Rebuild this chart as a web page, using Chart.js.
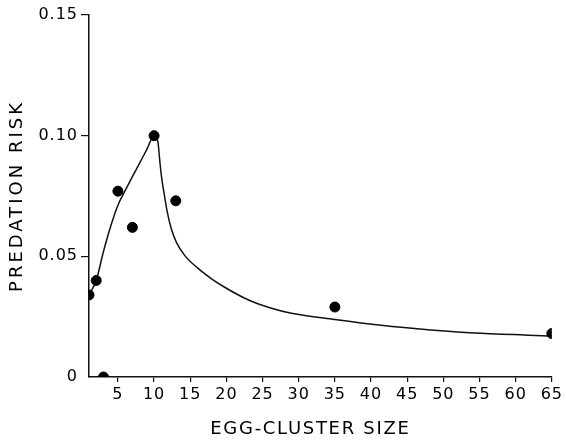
<!DOCTYPE html>
<html>
<head>
<meta charset="utf-8">
<script src="https://cdn.jsdelivr.net/npm/chart.js@4/dist/chart.umd.min.js"></script>
<style>
  html, body { margin: 0; padding: 0; background: #fff; }
  #wrap { width: 566px; height: 441px; }
</style>
</head>
<body>
<div id="wrap"><canvas id="c" width="566" height="441"></canvas></div>
<script>
// Observed data points (egg-cluster size vs predation risk)
const clusterSizes = [1, 2, 3, 5, 7, 10, 13, 35, 65];
const predationRisk = [0.034, 0.040, 0, 0.077, 0.062, 0.100, 0.073, 0.029, 0.018];

// Fitted curve
const curveSizes = [1, 2, 3, 4, 5, 6, 7, 8, 9, 10, 10.53, 10.76, 11.0, 11.35, 11.82, 12.37, 13.06, 14.2, 16.0, 17.9, 19.7, 23, 26, 29, 35, 41.4, 48.3, 55.2, 65];
const curveRisk  = [0.034, 0.040, 0.052, 0.0625, 0.0712, 0.0772, 0.083, 0.0886, 0.0943, 0.100, 0.0974, 0.0905, 0.0836, 0.0767, 0.0684, 0.0615, 0.056, 0.0505, 0.0452, 0.0408, 0.0373, 0.032, 0.0287, 0.0264, 0.0238, 0.0214, 0.0195, 0.0181, 0.017];

// Axis ticks
const xTicks = [5, 10, 15, 20, 25, 30, 35, 40, 45, 50, 55, 60, 65];
const yTicks = [0, 0.05, 0.10, 0.15];
const yTickLabels = ['0', '0.05', '0.10', '0.15'];

const pts = clusterSizes.map((x, i) => ({ x: x, y: predationRisk[i] }));
const curve = curveSizes.map((x, i) => ({ x: x, y: curveRisk[i] }));

const tickFont = { family: 'DejaVu Sans', size: 16 };
const titleFont = { family: 'DejaVu Sans', size: 18 };

const spacingPlugin = {
  id: 'spacing',
  beforeLayout(chart) { chart.ctx.letterSpacing = '1px'; },
  beforeDraw(chart) {
    chart.ctx.letterSpacing = '1px';
    const cfg = { x: { sp: '1.7px', dx: -10 }, y: { sp: '3px', dx: 0 } };
    Object.keys(cfg).forEach(k => {
      const s = chart.scales[k];
      if (s && !s._patched) {
        const orig = s.drawTitle.bind(s);
        s.drawTitle = function () {
          const ctx = chart.ctx;
          ctx.save();
          ctx.letterSpacing = cfg[k].sp;
          ctx.translate(cfg[k].dx, 0);
          orig.apply(null, arguments);
          ctx.restore();
        };
        s._patched = true;
      }
    });
  }
};

new Chart(document.getElementById('c'), {
  type: 'scatter',
  data: {
    datasets: [
      {
        type: 'line',
        data: curve,
        borderColor: '#111',
        borderWidth: 1.5,
        pointRadius: 0,
        fill: false,
        cubicInterpolationMode: 'monotone',
        order: 2
      },
      {
        data: pts,
        backgroundColor: '#000',
        borderColor: '#000',
        pointRadius: 5,
        pointHoverRadius: 5,
        order: 1
      }
    ]
  },
  plugins: [spacingPlugin],
  options: {
    responsive: false,
    animation: false,
    devicePixelRatio: 1,
    layout: { padding: { left: 0, right: 11, top: 15, bottom: 0 } },
    plugins: { legend: { display: false }, tooltip: { enabled: false } },
    scales: {
      x: {
        type: 'linear',
        min: 1,
        max: 65,
        afterBuildTicks: (s) => { s.ticks = xTicks.map(v => ({ value: v })); },
        afterFit: (s) => { s.height = 64; },
        border: { display: true, color: '#111', width: 1.5 },
        grid: { display: true, drawOnChartArea: false, drawTicks: true, tickLength: 5, color: '#111', lineWidth: 1.2 },
        ticks: { color: '#000', font: tickFont, padding: 3, maxRotation: 0, autoSkip: false, callback: (v) => String(v) },
        title: { display: true, text: 'EGG-CLUSTER SIZE', color: '#000', font: titleFont, padding: { top: 0, bottom: 1 } }
      },
      y: {
        type: 'linear',
        min: 0,
        max: 0.15,
        afterBuildTicks: (s) => { s.ticks = yTicks.map(v => ({ value: v })); },
        afterFit: (s) => { s.width = 89; },
        border: { display: true, color: '#111', width: 1.5 },
        grid: {
          display: true, drawOnChartArea: false, drawTicks: true, tickLength: 8,
          color: (ctx) => (ctx.tick && ctx.tick.value === 0) ? 'rgba(0,0,0,0)' : '#111',
          lineWidth: 1.2
        },
        ticks: {
          color: '#000', font: tickFont, padding: 3, autoSkip: false,
          callback: (v) => { const i = yTicks.indexOf(v); return i >= 0 ? yTickLabels[i] : ''; }
        },
        title: { display: true, text: 'PREDATION RISK', color: '#000', font: titleFont, padding: { top: 7, bottom: 0 } }
      }
    }
  }
});
</script>
</body>
</html>
